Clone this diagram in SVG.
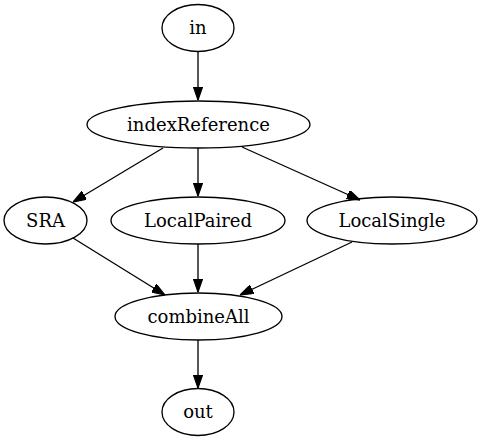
<svg xmlns="http://www.w3.org/2000/svg" width="485" height="443" viewBox="0 0 485 443">
<style>
.node ellipse{fill:none;stroke:#000;stroke-width:1.33}
.node text{font-family:"DejaVu Serif","Liberation Serif",serif;font-size:18px;fill:#000;text-anchor:middle}
.edge line{stroke:#000;stroke-width:1.33;marker-end:url(#arr)}
</style>
<defs>
<marker id="arr" viewBox="0 0 10 7" markerUnits="userSpaceOnUse" markerWidth="13.3" markerHeight="9.3" refX="10" refY="3.5" orient="auto">
<path d="M0,0 L10,3.5 L0,7 z" fill="#000" stroke="#000" stroke-width="0.9"/>
</marker>
</defs>
<rect width="485" height="443" fill="#fff"/>
<g id="edges" class="edge">
<line x1="198" y1="52" x2="198" y2="100"/>
<line x1="163" y1="148" x2="73" y2="202"/>
<line x1="198" y1="148" x2="198" y2="196"/>
<line x1="242" y1="147" x2="360" y2="200"/>
<line x1="73" y1="238" x2="165" y2="295"/>
<line x1="198" y1="244" x2="198" y2="292"/>
<line x1="352" y1="242" x2="240" y2="295"/>
<line x1="198" y1="340" x2="198" y2="388"/>
</g>
<g id="in" class="node"><ellipse cx="198" cy="28" rx="36" ry="23.5"/><text x="198" y="34">in</text></g>
<g id="indexReference" class="node"><ellipse cx="198.5" cy="124.5" rx="111.5" ry="23.5"/><text x="198.5" y="130.5">indexReference</text></g>
<g id="SRA" class="node"><ellipse cx="45.5" cy="220.5" rx="41.5" ry="23.5"/><text x="45.5" y="226.5">SRA</text></g>
<g id="LocalPaired" class="node"><ellipse cx="198" cy="220.5" rx="87" ry="23.5"/><text x="198" y="226.5">LocalPaired</text></g>
<g id="LocalSingle" class="node"><ellipse cx="392" cy="220.5" rx="85" ry="23.5"/><text x="392" y="226.5">LocalSingle</text></g>
<g id="combineAll" class="node"><ellipse cx="198.5" cy="316.5" rx="83.5" ry="23.5"/><text x="198.5" y="322.5">combineAll</text></g>
<g id="out" class="node"><ellipse cx="198" cy="412" rx="36" ry="23.5"/><text x="198" y="418">out</text></g>
</svg>
